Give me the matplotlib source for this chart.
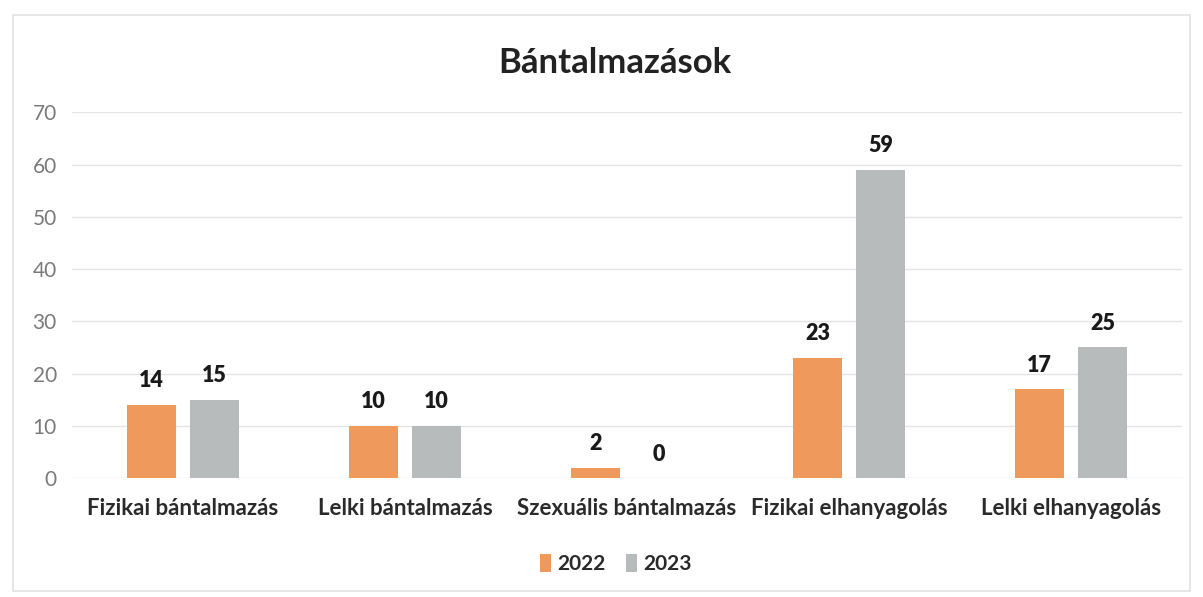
import matplotlib
matplotlib.use("Agg")
import matplotlib.pyplot as plt
import numpy as np
from matplotlib.patches import Rectangle

categories = ["Fizikai bántalmazás", "Lelki bántalmazás", "Szexuális bántalmazás",
              "Fizikai elhanyagolás", "Lelki elhanyagolás"]
v2022 = [14, 10, 2, 23, 17]
v2023 = [15, 10, 0, 59, 25]
series_names = ["2022", "2023"]
yticks = [0, 10, 20, 30, 40, 50, 60, 70]

plt.rcParams['font.family'] = ['Lato', 'DejaVu Sans']

fig = plt.figure(figsize=(12.03, 5.97), dpi=100)
fig.patch.set_facecolor('white')
fig.patches.append(Rectangle((0.011, 0.01), 0.978, 0.965, transform=fig.transFigure,
                             fill=False, edgecolor='#E2E2E2', linewidth=1.2))
ax = fig.add_axes([0.0599, 0.199, 0.9226, 0.613])

x = np.arange(len(categories))
w = 0.22
off = 0.142
c1 = '#EF995C'
c2 = '#B7BBBB'
b1 = ax.bar(x - off, v2022, w, color=c1, label=series_names[0], zorder=3)
b2 = ax.bar(x + off, v2023, w, color=c2, label=series_names[1], zorder=3)

for bars, vals in ((b1, v2022), (b2, v2023)):
    for r, v in zip(bars, vals):
        ax.text(r.get_x() + r.get_width() / 2, v + 2.6, str(v), ha='center', va='bottom',
                fontsize=15.5, fontweight='heavy', color='#1A1A1A')

ax.set_xlim(-0.5, len(categories) - 0.5)
ax.set_ylim(0, 70)
ax.set_yticks(yticks)
ax.set_xticks(x)
ax.set_xticklabels(categories, fontsize=16, fontweight='bold', color='#2A2A2A')
ax.tick_params(axis='x', length=0, pad=14)
ax.tick_params(axis='y', length=0, pad=11, labelsize=15, labelcolor='#7A7A7A')
ax.grid(axis='y', color='#E4E4E4', linewidth=1.0, zorder=0)
for s in ax.spines.values():
    s.set_visible(False)

fig.text(0.511, 0.895, "Bántalmazások", ha='center', va='center', fontsize=25,
         fontweight='bold', color='#222222')

leg = fig.legend(handles=[b1, b2], labels=series_names, loc='center', bbox_to_anchor=(0.512, 0.055),
                 ncol=2, frameon=False, fontsize=15, handlelength=0.5, handleheight=0.9,
                 handletextpad=0.3, columnspacing=1.0)
for t in leg.get_texts():
    t.set_fontweight('bold')
    t.set_color('#2A2A2A')

fig.savefig("out.png", dpi=100, facecolor='white')
